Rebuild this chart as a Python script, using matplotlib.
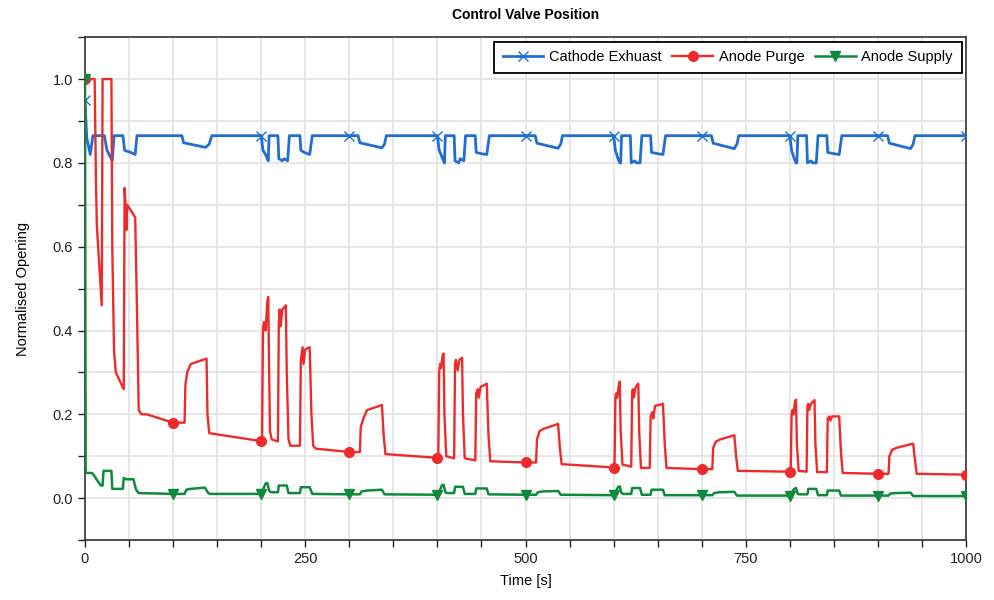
import matplotlib.pyplot as plt
from matplotlib.ticker import MultipleLocator

plt.rcParams['font.family'] = ['Liberation Sans', 'DejaVu Sans']

# Cathode exhaust valve
cath_t = [0, 2, 6, 9, 22, 25, 31, 33, 43, 45, 52, 57, 59, 110, 112, 137, 141, 144,
          200, 202, 205, 207, 208, 209, 219, 220, 224, 226, 230, 232, 244, 245, 249, 255, 258,
          300, 310, 312, 337, 340, 342,
          400, 402, 405, 407, 408, 409, 419, 420, 424, 426, 430, 432, 443, 444, 450, 456, 459,
          500, 511, 513, 537, 540, 542,
          600, 602, 605, 607, 608, 609, 619, 620, 624, 626, 630, 632, 642, 643, 650, 656, 659,
          700, 711, 713, 737, 740, 742,
          800, 802, 805, 807, 808, 809, 819, 820, 824, 826, 830, 832, 842, 843, 850, 856, 859,
          900, 911, 913, 937, 940, 942, 1000]
cath_v = [0.95, 0.86, 0.82, 0.865, 0.865, 0.83, 0.805, 0.865, 0.865, 0.83, 0.825, 0.82, 0.865, 0.865, 0.848, 0.837, 0.845, 0.865,
          0.865, 0.83, 0.82, 0.81, 0.805, 0.865, 0.865, 0.81, 0.805, 0.81, 0.805, 0.865, 0.865, 0.83, 0.825, 0.82, 0.865,
          0.865, 0.865, 0.848, 0.836, 0.845, 0.865,
          0.865, 0.83, 0.815, 0.805, 0.80, 0.865, 0.865, 0.805, 0.80, 0.81, 0.805, 0.865, 0.865, 0.825, 0.822, 0.82, 0.865,
          0.865, 0.865, 0.847, 0.835, 0.845, 0.865,
          0.865, 0.83, 0.81, 0.80, 0.80, 0.865, 0.865, 0.80, 0.805, 0.80, 0.80, 0.865, 0.865, 0.825, 0.822, 0.82, 0.865,
          0.865, 0.865, 0.847, 0.834, 0.845, 0.865,
          0.865, 0.83, 0.81, 0.80, 0.80, 0.865, 0.865, 0.80, 0.805, 0.80, 0.80, 0.865, 0.865, 0.825, 0.822, 0.82, 0.865,
          0.865, 0.865, 0.847, 0.834, 0.845, 0.865, 0.865]

# Anode purge valve
purge_t = [0, 11, 12.5, 13.5, 19, 20, 30, 31, 33, 35, 44, 45, 46, 47, 48, 51, 57, 59, 61, 64, 70, 100,
           113, 114, 116, 118, 120, 138, 139, 141, 150, 200,
           201, 202, 203, 205, 207, 208, 209, 210, 212, 219, 220, 221, 222, 224, 228, 229, 231, 233,
           244, 245, 247, 248, 250, 255, 257, 259, 262, 300,
           312, 313, 316, 320, 337, 339, 341, 400,
           401, 402, 403, 404, 406, 407, 408, 410, 419, 420, 421, 423, 425, 428, 429, 431,
           443, 444, 446, 447, 449, 456, 458, 460, 500,
           512, 513, 516, 520, 537, 539, 541, 600,
           601, 602, 603, 604, 606, 607, 608, 610, 620, 621, 622, 623, 625, 628, 629, 631,
           641, 642, 644, 645, 647, 656, 658, 660, 700,
           712, 713, 716, 721, 737, 739, 741, 800,
           801, 802, 803, 804, 806, 807, 808, 810, 819, 820, 821, 822, 824, 828, 829, 831,
           842, 843, 845, 846, 848, 856, 858, 860, 900,
           912, 913, 916, 921, 940, 942, 944, 1000]
purge_v = [1.0, 1.0, 0.75, 0.65, 0.46, 1.0, 1.0, 0.6, 0.35, 0.30, 0.26, 0.74, 0.70, 0.64, 0.70, 0.69, 0.67, 0.45, 0.21, 0.20, 0.20, 0.18,
           0.18, 0.27, 0.30, 0.31, 0.32, 0.333, 0.20, 0.155, 0.152, 0.136,
           0.136, 0.40, 0.42, 0.40, 0.47, 0.48, 0.30, 0.16, 0.14, 0.135, 0.42, 0.45, 0.41, 0.45, 0.46, 0.30, 0.14, 0.125,
           0.125, 0.33, 0.36, 0.32, 0.355, 0.36, 0.20, 0.125, 0.118, 0.11,
           0.11, 0.17, 0.19, 0.21, 0.222, 0.15, 0.105, 0.096,
           0.096, 0.30, 0.32, 0.31, 0.34, 0.345, 0.20, 0.10, 0.095, 0.32, 0.33, 0.305, 0.33, 0.335, 0.20, 0.095,
           0.09, 0.25, 0.26, 0.24, 0.265, 0.273, 0.15, 0.088, 0.085,
           0.085, 0.14, 0.16, 0.165, 0.177, 0.12, 0.081, 0.073,
           0.073, 0.24, 0.25, 0.24, 0.27, 0.278, 0.16, 0.08, 0.075, 0.255, 0.26, 0.24, 0.265, 0.273, 0.16, 0.072,
           0.072, 0.195, 0.205, 0.19, 0.22, 0.225, 0.13, 0.072, 0.069,
           0.069, 0.12, 0.135, 0.14, 0.15, 0.10, 0.065, 0.063,
           0.063, 0.20, 0.21, 0.20, 0.232, 0.235, 0.13, 0.065, 0.063, 0.22, 0.225, 0.21, 0.225, 0.234, 0.13, 0.062,
           0.062, 0.19, 0.195, 0.185, 0.195, 0.195, 0.11, 0.06, 0.058,
           0.058, 0.10, 0.115, 0.12, 0.13, 0.09, 0.058, 0.056]

# Anode supply valve
supply_t = [0, 0.8, 8, 10, 13, 18, 20, 21, 30, 31, 43, 44, 47, 55, 58, 61, 100,
            113, 115, 120, 136, 140, 142, 200,
            201, 203, 205, 207, 209, 211, 219, 220, 229, 231, 244, 245, 255, 258, 300,
            312, 314, 320, 337, 340, 400,
            401, 403, 405, 407, 409, 411, 419, 420, 429, 431, 443, 444, 456, 458, 500,
            512, 514, 520, 537, 540, 600,
            601, 603, 605, 607, 609, 611, 620, 621, 630, 632, 642, 643, 656, 658, 700,
            712, 714, 720, 737, 740, 800,
            801, 803, 805, 807, 809, 811, 820, 821, 830, 832, 842, 843, 856, 858, 900,
            912, 914, 920, 937, 940, 1000]
supply_v = [1.0, 0.06, 0.06, 0.055, 0.045, 0.03, 0.03, 0.065, 0.065, 0.022, 0.022, 0.048, 0.045, 0.045, 0.02, 0.012, 0.01,
            0.01, 0.02, 0.022, 0.025, 0.012, 0.01, 0.01,
            0.01, 0.025, 0.035, 0.036, 0.018, 0.014, 0.014, 0.03, 0.03, 0.012, 0.012, 0.026, 0.026, 0.01, 0.009,
            0.009, 0.016, 0.018, 0.02, 0.009, 0.008,
            0.008, 0.02, 0.03, 0.032, 0.014, 0.012, 0.012, 0.027, 0.027, 0.01, 0.01, 0.023, 0.023, 0.009, 0.008,
            0.008, 0.014, 0.016, 0.017, 0.008, 0.007,
            0.007, 0.018, 0.026, 0.028, 0.012, 0.01, 0.01, 0.024, 0.024, 0.008, 0.008, 0.02, 0.02, 0.007, 0.007,
            0.007, 0.012, 0.014, 0.015, 0.006, 0.006,
            0.006, 0.016, 0.022, 0.024, 0.01, 0.009, 0.009, 0.022, 0.022, 0.007, 0.007, 0.018, 0.018, 0.006, 0.006,
            0.006, 0.011, 0.012, 0.013, 0.005, 0.005]

marker_times = [0, 100, 200, 300, 400, 500, 600, 700, 800, 900, 1000]


def mark_idx(ts):
    return [i for i, t in enumerate(ts) if t in marker_times]


fig = plt.figure(figsize=(9.95, 6), dpi=100)
ax = fig.add_axes([0.0854, 0.1, 0.8855, 0.838])

ax.plot(cath_t, cath_v, color='#1f6fd2', lw=2.0, marker='x', ms=7, mew=1.0,
        markevery=mark_idx(cath_t), label='Cathode Exhuast', zorder=3)
ax.plot(purge_t, purge_v, color='#ee2b2b', lw=1.7, marker='o', ms=7,
        markevery=mark_idx(purge_t), label='Anode Purge', zorder=3)
ax.plot(supply_t, supply_v, color='#0f8a3d', lw=1.8, marker='v', ms=7,
        markevery=mark_idx(supply_t), label='Anode Supply', zorder=4)

ax.set_xlim(0, 1000)
ax.set_ylim(-0.1, 1.1)
ax.xaxis.set_major_locator(MultipleLocator(250))
ax.xaxis.set_minor_locator(MultipleLocator(50))
ax.yaxis.set_minor_locator(MultipleLocator(0.1))
ax.set_yticks([0.0, 0.2, 0.4, 0.6, 0.8, 1.0])
ax.yaxis.set_major_formatter(plt.FuncFormatter(lambda v, p: '{:.1f}'.format(v)))

ax.grid(True, which='both', color='#e4e4e4', lw=1.3, zorder=0)
ax.set_axisbelow(True)
ax.tick_params(which='both', direction='out', length=5, width=1, labelsize=10.5, colors='#222222')
ax.tick_params(top=False, right=False)
for s in ax.spines.values():
    s.set_color('#333333')
    s.set_linewidth(1.2)

ax.set_title('Control Valve Position', fontsize=10, fontweight='bold', pad=13)
ax.set_xlabel('Time [s]', fontsize=10.5, labelpad=6)
ax.set_ylabel('Normalised Opening', fontsize=10.5, labelpad=16)

leg = ax.legend(loc='upper right', ncol=3, fontsize=10.5, frameon=True, fancybox=False,
                edgecolor='black', framealpha=1, handlelength=2.8, columnspacing=0.7,
                handletextpad=0.4, borderaxespad=0.3, borderpad=0.6)
leg.get_frame().set_linewidth(1.3)

fig.savefig('out.png', dpi=100)
